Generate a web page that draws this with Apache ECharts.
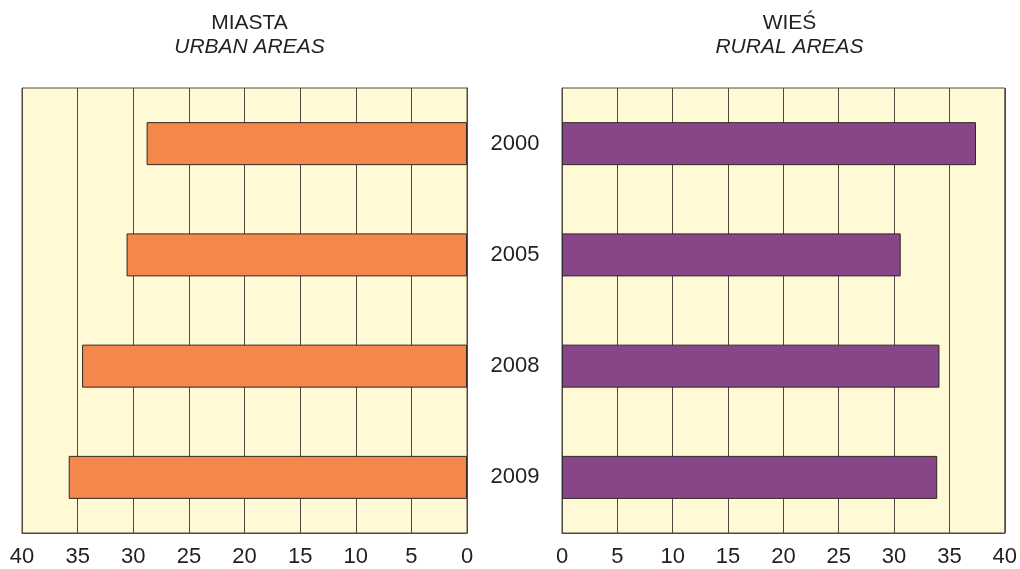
<!DOCTYPE html>
<html><head><meta charset="utf-8">
<script src="https://cdn.jsdelivr.net/npm/echarts@6/dist/echarts.min.js"></script>
<style>html,body{margin:0;padding:0;background:#fff}#c{width:1020px;height:569px}</style>
</head><body><div id="c"></div>
<script>
const years = ['2000', '2005', '2008', '2009'];
const urban = [28.8, 30.6, 34.6, 35.8];
const rural = [37.4, 30.6, 34.1, 33.9];
const titleUrban = ['MIASTA', 'URBAN AREAS'];
const titleRural = ['WIEŚ', 'RURAL AREAS'];

const FONT = '"Liberation Sans", Arial, sans-serif';
const TXT = '#231f20';
const BG = '#fff9d6';
const GRID = '#4d4a40';

const chart = echarts.init(document.getElementById('c'), null, {renderer: 'canvas'});
const xAxisBase = (gi, inverse) => ({
  gridIndex: gi, type: 'value', min: 0, max: 40, interval: 5, inverse: inverse,
  axisLine: {show: true, lineStyle: {color: GRID, width: 1}},
  axisTick: {show: false},
  splitLine: {show: true, lineStyle: {color: GRID, width: 1}},
  axisLabel: {color: TXT, fontFamily: FONT, fontSize: 22, margin: 13}
});
chart.setOption({
  animation: false,
  title: [
    {text: titleUrban[0], subtext: titleUrban[1], left: 244.5, top: 8, textAlign: 'center', itemGap: 3,
     textStyle: {fontFamily: FONT, fontSize: 21, fontWeight: 'normal', color: TXT},
     subtextStyle: {fontFamily: FONT, fontSize: 21, fontStyle: 'italic', color: TXT}},
    {text: titleRural[0], subtext: titleRural[1], left: 784.5, top: 8, textAlign: 'center', itemGap: 3,
     textStyle: {fontFamily: FONT, fontSize: 21, fontWeight: 'normal', color: TXT},
     subtextStyle: {fontFamily: FONT, fontSize: 21, fontStyle: 'italic', color: TXT}}
  ],
  grid: [
    {left: 22, right: 553, top: 88, bottom: 36, show: true, backgroundColor: BG, borderColor: GRID, borderWidth: 1},
    {left: 562, right: 13, top: 88, bottom: 36, show: true, backgroundColor: BG, borderColor: GRID, borderWidth: 1}
  ],
  xAxis: [xAxisBase(0, true), xAxisBase(1, false)],
  yAxis: [
    {gridIndex: 0, type: 'category', data: years, inverse: true, position: 'right',
     axisLine: {show: true, lineStyle: {color: GRID}}, axisTick: {show: false},
     axisLabel: {color: TXT, fontFamily: FONT, fontSize: 22, align: 'center', margin: 48}},
    {gridIndex: 1, type: 'category', data: years, inverse: true, position: 'left',
     axisLine: {show: true, lineStyle: {color: GRID}}, axisTick: {show: false},
     axisLabel: {show: false}}
  ],
  series: [
    {type: 'bar', xAxisIndex: 0, yAxisIndex: 0, data: urban, barWidth: 43,
     itemStyle: {color: '#f4874b', borderColor: '#2e2a25', borderWidth: 1}},
    {type: 'bar', xAxisIndex: 1, yAxisIndex: 1, data: rural, barWidth: 43,
     itemStyle: {color: '#874687', borderColor: '#2e2a25', borderWidth: 1}}
  ]
});
</script></body></html>
